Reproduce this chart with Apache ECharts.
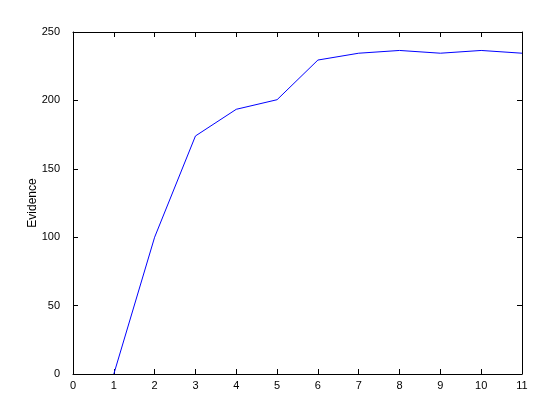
<!DOCTYPE html>
<html><head><meta charset="utf-8">
<script src="https://cdn.jsdelivr.net/npm/echarts@6/dist/echarts.min.js"></script>
<style>html,body{margin:0;padding:0;background:#fff}#c{width:560px;height:420px}</style>
</head><body><div id="c"></div>
<script>
const xValues = [1, 2, 3, 4, 5, 6, 7, 8, 9, 10, 11];
const evidence = [0, 100, 174, 193.5, 200.5, 229.5, 234.5, 236.5, 234.5, 236.5, 234.5];
const yLabel = 'Evidence';

const chart = echarts.init(document.getElementById('c'), null, {renderer: 'canvas'});
const axisFont = {fontFamily: 'Liberation Sans, Arial, sans-serif', fontSize: 11, color: '#000'};
const axisLine = {show: true, onZero: false, lineStyle: {color: '#000', width: 1}};
const ticks = {show: true, inside: true, length: 5, lineStyle: {color: '#000'}};
chart.setOption({
  animation: false,
  grid: {left: 73, right: 38, top: 32, bottom: 46, containLabel: false},
  xAxis: [
    {type: 'value', min: 0, max: 11, interval: 1, position: 'bottom',
     axisLine, axisTick: ticks, splitLine: {show: false},
     axisLabel: Object.assign({margin: 6}, axisFont)},
    {type: 'value', min: 0, max: 11, interval: 1, position: 'top',
     axisLine, axisTick: ticks, splitLine: {show: false}, axisLabel: {show: false}}
  ],
  yAxis: [
    {type: 'value', min: 0, max: 250, interval: 50, position: 'left',
     name: yLabel, nameLocation: 'middle', nameGap: 34, nameRotate: 90,
     nameMoveOverlap: false,
     nameTextStyle: Object.assign({}, axisFont, {fontSize: 12}),
     axisLine, axisTick: ticks, splitLine: {show: false},
     axisLabel: Object.assign({margin: 13}, axisFont)},
    {type: 'value', min: 0, max: 250, interval: 50, position: 'right',
     axisLine, axisTick: ticks, splitLine: {show: false}, axisLabel: {show: false}}
  ],
  series: [{
    type: 'line', xAxisIndex: 0, yAxisIndex: 0,
    data: xValues.map((x, i) => [x, evidence[i]]),
    showSymbol: false, symbol: 'none',
    lineStyle: {color: '#0000ff', width: 1},
    itemStyle: {color: '#0000ff'}
  }]
});
</script></body></html>
